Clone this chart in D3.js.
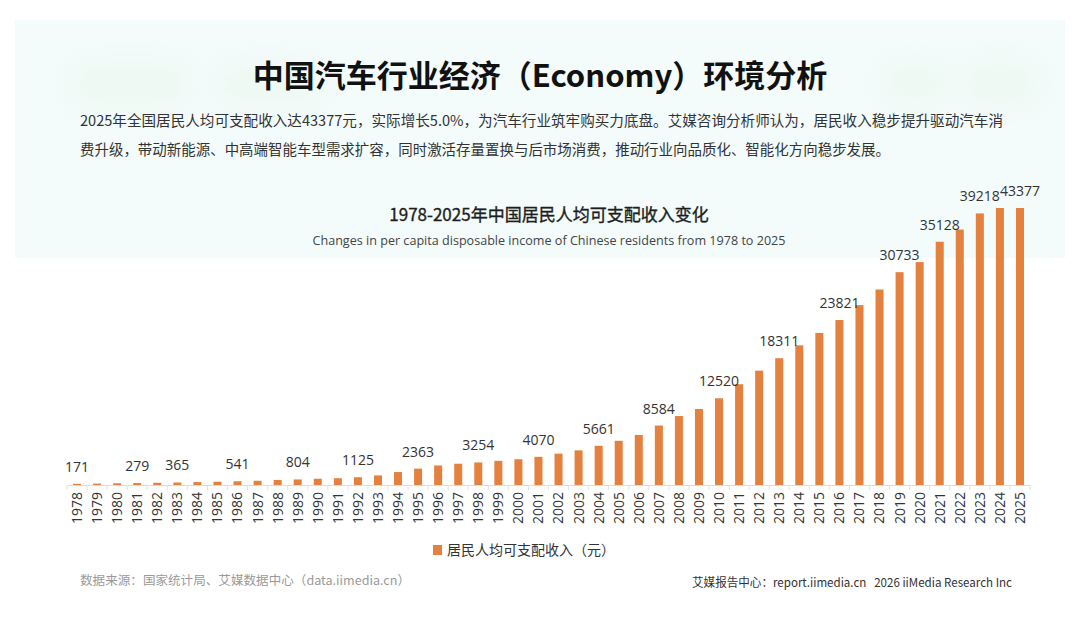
<!DOCTYPE html>
<html>
<head>
<meta charset="utf-8">
<script src="https://cdn.jsdelivr.net/npm/d3@7"></script>
<style>
  html, body { margin: 0; padding: 0; background: #fff; }
  svg { display: block; font-family: "Noto Sans CJK SC", "Noto Sans", sans-serif; }
</style>
</head>
<body>
<svg id="chart" width="1080" height="622"></svg>
<script>
// data
const years = d3.range(1978, 2026).map(String);
const income = [
  171, 208, 247, 279, 319, 365, 420, 479, 541, 610,
  733, 804, 904, 976, 1125, 1385, 1870, 2363, 2814, 3070,
  3254, 3485, 3721, 4070, 4532, 5007, 5661, 6385, 7229, 8584,
  9957, 10977, 12520, 14551, 16510, 18311, 20167, 21966, 23821, 25974,
  28228, 30733, 32189, 35128, 36883, 39218, 41314, 43377
];
// years that carry a value label
const labelledYears = ['1978', '1981', '1983', '1986', '1989', '1992', '1995', '1998',
  '2001', '2004', '2007', '2010', '2013', '2016', '2019', '2021', '2023', '2025'];

const mainTitle = '中国汽车行业经济（Economy）环境分析';
const introLines = [
  '2025年全国居民人均可支配收入达43377元，实际增长5.0%，为汽车行业筑牢购买力底盘。艾媒咨询分析师认为，居民收入稳步提升驱动汽车消',
  '费升级，带动新能源、中高端智能车型需求扩容，同时激活存量置换与后市场消费，推动行业向品质化、智能化方向稳步发展。'
];
const chartTitle = '1978-2025年中国居民人均可支配收入变化';
const chartSubtitle = 'Changes in per capita disposable income of Chinese residents from 1978 to 2025';
const legendLabel = '居民人均可支配收入（元）';
const sourceNote = '数据来源：国家统计局、艾媒数据中心（data.iimedia.cn）';
const creditNote = '艾媒报告中心：report.iimedia.cn\u00a0\u00a0\u00a02026 iiMedia Research Inc';

const data = years.map((y, i) => ({ year: y, value: income[i] }));

const barColor = '#e5813e';
const baseY = 485;

const svg = d3.select('#chart');

// pale header panel
const defs = svg.append('defs');
defs.append('filter').attr('id', 'blur')
  .attr('x', '-50%').attr('y', '-50%').attr('width', '200%').attr('height', '200%')
  .append('feGaussianBlur').attr('stdDeviation', 12);

svg.append('rect')
  .attr('x', 15).attr('y', 20).attr('width', 1050).attr('height', 238)
  .attr('fill', '#f3fbfb');

const blobs = svg.append('g').attr('filter', 'url(#blur)').attr('opacity', 0.35);
[[70, 60, 120, 50], [215, 62, 110, 45], [880, 60, 70, 45], [960, 58, 80, 50]].forEach(b => {
  blobs.append('rect').attr('x', b[0]).attr('y', b[1]).attr('width', b[2]).attr('height', b[3])
    .attr('rx', 20).attr('fill', '#e6f6e4');
});

// main heading + intro text
svg.append('text')
  .attr('x', 540).attr('y', 87)
  .attr('text-anchor', 'middle')
  .attr('font-size', 31).attr('font-weight', 700).attr('fill', '#111')
  .text(mainTitle);

svg.selectAll('.intro')
  .data(introLines)
  .join('text')
  .attr('class', 'intro')
  .attr('x', 80).attr('y', (d, i) => 126 + i * 29)
  .attr('font-size', 14.5).attr('fill', '#333')
  .attr('textLength', (d, i) => i === 0 ? 923 : 810)
  .attr('lengthAdjust', 'spacingAndGlyphs')
  .text(d => d);

// chart titles
svg.append('text')
  .attr('x', 549).attr('y', 221)
  .attr('text-anchor', 'middle')
  .attr('font-size', 17).attr('font-weight', 400).attr('fill', '#1e1e1e')
  .attr('stroke', '#1e1e1e').attr('stroke-width', 0.35)
  .text(chartTitle);

svg.append('text')
  .attr('x', 549).attr('y', 245)
  .attr('text-anchor', 'middle')
  .attr('font-family', '"Open Sans", "Noto Sans", sans-serif')
  .attr('font-size', 12).attr('fill', '#444')
  .attr('textLength', 473).attr('lengthAdjust', 'spacingAndGlyphs')
  .text(chartSubtitle);

// scales -- top of the plot is clipped in the source, so clamp
const x = d3.scaleBand()
  .domain(years)
  .range([67, 1030])
  .paddingInner(0.6)
  .paddingOuter(0.3);

const y = d3.scaleLinear()
  .domain([0, 40000])
  .range([baseY, 208])
  .clamp(true);

// bars
svg.append('g').selectAll('rect')
  .data(data)
  .join('rect')
  .attr('x', d => x(d.year))
  .attr('y', d => y(d.value))
  .attr('width', x.bandwidth())
  .attr('height', d => baseY - y(d.value))
  .attr('fill', barColor);

// value labels
svg.append('g').selectAll('text')
  .data(data.filter(d => labelledYears.includes(d.year)))
  .join('text')
  .attr('x', d => x(d.year) + x.bandwidth() / 2)
  .attr('y', d => y(d.value) - 12)
  .attr('text-anchor', 'middle')
  .attr('font-family', '"Open Sans", "Noto Sans", sans-serif')
  .attr('font-size', 14).attr('fill', '#333')
  .text(d => d.value);

// x axis
const xAxis = svg.append('g')
  .attr('transform', `translate(0,${baseY})`)
  .call(d3.axisBottom(x).tickSize(0).tickPadding(0));

xAxis.select('.domain').attr('stroke', '#d6dce4').attr('stroke-width', 1.2);

xAxis.selectAll('.tick text')
  .attr('transform', 'rotate(-90)')
  .attr('text-anchor', 'end')
  .attr('dx', -7).attr('dy', '0.35em')
  .attr('y', 0)
  .attr('font-family', '"Open Sans", "Noto Sans", sans-serif')
  .attr('font-size', 14).attr('fill', '#333');

// little divider ticks between categories
xAxis.append('g').selectAll('line')
  .data(d3.range(years.length + 1))
  .join('line')
  .attr('x1', i => x.range()[0] + i * x.step())
  .attr('x2', i => x.range()[0] + i * x.step())
  .attr('y1', 0).attr('y2', 5)
  .attr('stroke', '#dde2e8');

// legend
const legend = svg.append('g').attr('transform', 'translate(433,550)');
legend.append('rect')
  .attr('x', 0).attr('y', -5).attr('width', 9).attr('height', 10)
  .attr('fill', barColor);
legend.append('text')
  .attr('x', 14).attr('y', 5)
  .attr('font-size', 14).attr('fill', '#333')
  .text(legendLabel);

// footer
svg.append('text')
  .attr('x', 80).attr('y', 585)
  .attr('font-size', 12.5).attr('fill', '#9a9a9a')
  .attr('textLength', 330).attr('lengthAdjust', 'spacingAndGlyphs')
  .text(sourceNote);

svg.append('text')
  .attr('x', 692).attr('y', 587)
  .attr('font-size', 12).attr('fill', '#333')
  .attr('textLength', 320).attr('lengthAdjust', 'spacingAndGlyphs')
  .text(creditNote);
</script>
</body>
</html>
